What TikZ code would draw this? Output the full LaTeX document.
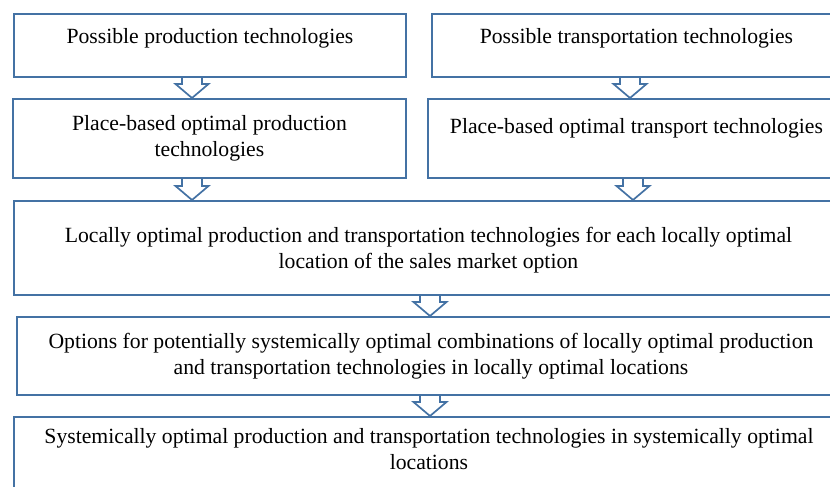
\documentclass[tikz,border=0pt]{standalone}
\usepackage{fontspec}
\setmainfont{Liberation Serif}
\usetikzlibrary{calc}

\definecolor{boxblue}{RGB}{68,114,164}

\tikzset{
	stage/.style={draw=boxblue, line width=1.9pt, anchor=north west, align=center,
		inner sep=0pt, font=\fontsize{21.7}{26}\selectfont},
	flowarr/.style={draw=boxblue, line width=1.7pt, line join=miter}
}

% hollow block arrow: #1 = x of the arrow, #2 = upper box, #3 = lower box
\newcommand{\flowdown}[3]{%
	\draw[flowarr] let \p1=(#2.south), \p2=(#3.north) in
		(#1-10,\y1) -- (#1-10,\y2+14pt) -- (#1-16.5,\y2+14pt) -- (#1,\y2)
		-- (#1+16.5,\y2+14pt) -- (#1+10,\y2+14pt) -- (#1+10,\y1);}

\begin{document}
\begin{tikzpicture}[x=1pt,y=-1pt]
	\useasboundingbox (0,0) rectangle (830,487);
	\clip (0,0) rectangle (830,487);

	\node[stage, minimum width=392, minimum height=63, text height=15pt, text depth=18pt] (prodposs) at (13,13) {Possible production technologies};
	\node[stage, minimum width=409, minimum height=63, text height=15pt, text depth=18pt] (transposs) at (431,13) {Possible transportation technologies};

	\node[stage, minimum width=393, minimum height=79] (prodplace) at (12,98) {Place-based optimal production\\technologies};
	\node[stage, minimum width=417, minimum height=79, text height=15pt, text depth=24pt] (transplace) at (427,98) {Place-based optimal transport technologies};

	\node[stage, minimum width=829, minimum height=94, text depth=0pt] (local) at (13,200) {Locally optimal production and transportation technologies for each locally optimal\\location of the sales market option};
	\node[stage, minimum width=828, minimum height=78] (options) at (16,316) {Options for potentially systemically optimal combinations of locally optimal production\\and transportation technologies in locally optimal locations};
	\node[stage, minimum width=830, minimum height=90, text depth=25pt] (system) at (13,416) {Systemically optimal production and transportation technologies in systemically optimal\\locations};

	\flowdown{192}{prodposs}{prodplace}
	\flowdown{192}{prodplace}{local}
	\flowdown{630}{transposs}{transplace}
	\flowdown{633}{transplace}{local}
	\flowdown{430}{local}{options}
	\flowdown{430}{options}{system}
\end{tikzpicture}
\end{document}
